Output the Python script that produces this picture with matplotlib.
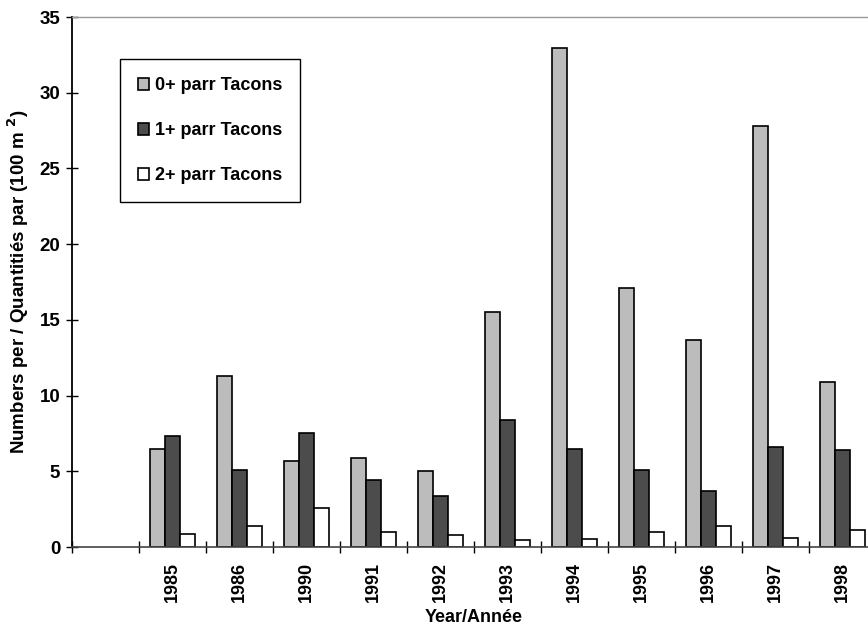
import numpy as np
import matplotlib.pyplot as plt

plt.rcParams['font.family'] = ['Liberation Sans', 'DejaVu Sans']
plt.rcParams['font.weight'] = 'bold'

# first slot is an empty category, as in the original chart
years = ['', '1985', '1986', '1990', '1991', '1992', '1993',
         '1994', '1995', '1996', '1997', '1998']
parr_0 = [np.nan, 6.45, 11.3, 5.7, 5.85, 5.0, 15.55, 32.95, 17.1, 13.7, 27.8, 10.9]
parr_1 = [np.nan, 7.3, 5.1, 7.5, 4.45, 3.35, 8.4, 6.5, 5.1, 3.7, 6.6, 6.4]
parr_2 = [np.nan, 0.85, 1.4, 2.55, 1.0, 0.8, 0.45, 0.5, 1.0, 1.4, 0.6, 1.1]
labels = ['0+ parr Tacons', '1+ parr Tacons', '2+ parr Tacons']
colors = ['#bcbcbc', '#4c4c4c', 'white']

fig = plt.figure(figsize=(8.68, 6.3), dpi=100)
ax = fig.add_axes([72 / 868, 83 / 630, 804 / 868, 530 / 630])

x = np.arange(len(years))
w = 0.22
for i, (vals, lab, col) in enumerate(zip([parr_0, parr_1, parr_2], labels, colors)):
    ax.bar(x + (i - 1) * w, vals, width=w, color=col, edgecolor='black',
           linewidth=1.2, label=lab)

ax.set_xlim(-0.5, len(years) - 0.5)
ax.set_ylim(0, 35)
ax.set_yticks(range(0, 36, 5))

# year labels at centres, tick marks on category boundaries
ax.set_xticks(x)
ax.set_xticklabels(years, rotation=90, fontsize=13, fontweight='bold')
ax.set_xticks(np.arange(-0.5, len(years), 1), minor=True)
ax.tick_params(axis='x', which='major', length=0, pad=11)
ax.tick_params(axis='x', which='minor', direction='inout', length=9, width=1)
ax.tick_params(axis='y', direction='inout', length=9, width=1, labelsize=13.5, pad=4)
for t in ax.get_yticklabels():
    t.set_fontweight('bold')

ax.spines['left'].set_linewidth(1.3)
ax.spines['bottom'].set_color('#444444')
ax.spines['bottom'].set_linewidth(1.2)
ax.spines['bottom'].set_linestyle((0, (1, 1)))
ax.spines['top'].set_color('#999999')
ax.spines['top'].set_linewidth(1)
ax.spines['top'].set_linestyle((0, (1, 1)))
ax.spines['right'].set_visible(False)

ax.set_xlabel('Year/Année', fontsize=13, fontweight='bold', labelpad=5)
ax.set_ylabel('Numbers per / Quantitiés par (100 m $^{\\mathbf{2}}$)', fontsize=13.5,
              fontweight='bold', labelpad=6)

leg = ax.legend(loc='upper left', bbox_to_anchor=(0.06, 0.92),
                prop={'weight': 'bold', 'size': 13}, fancybox=False,
                edgecolor='black', framealpha=1, handlelength=0.6,
                handleheight=0.6, handletextpad=0.3, labelspacing=1.55,
                borderpad=1.0, borderaxespad=0)
leg.get_frame().set_linewidth(1)

fig.savefig('out.png', dpi=100)
